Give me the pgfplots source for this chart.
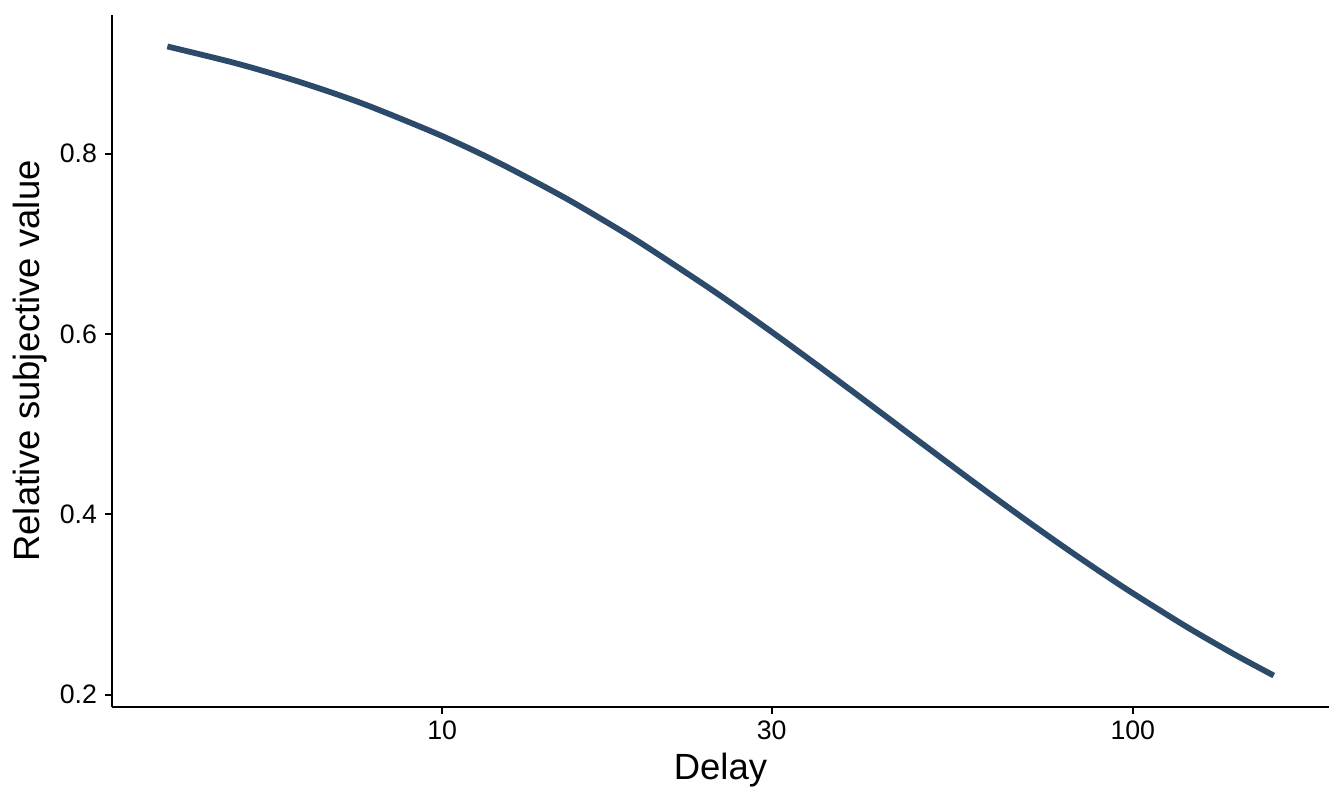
\documentclass[border=0pt]{standalone}
\usepackage{pgfplots}
\pgfplotsset{compat=1.18}
\usepackage{fontspec}
\setmainfont{Liberation Sans}
\definecolor{curve}{HTML}{2C4A6A}
\begin{document}
\begin{tikzpicture}
\begin{axis}[
  at={(0,0)}, anchor=south west,
  scale only axis, width=608.5bp, height=346bp,
  xmode=log, log basis x=10,
  xmin=3.326, xmax=192.4, ymin=0.1863, ymax=0.954,
  axis lines=left, axis line style={-, line width=1.1bp, black},
  xtick={10,30,100}, xticklabels={10,30,100},
  ytick={0.2,0.4,0.6,0.8},
  yticklabel style={/pgf/number format/fixed, /pgf/number format/precision=1, /pgf/number format/fixed zerofill},
  /pgf/number format/assume math mode=true,
  tick align=outside, major tick length=3.5bp,
  tick style={line width=1.1bp, black},
  minor tick num=0, xminorticks=false,
  ticklabel style={font=\fontsize{13.4}{16}\selectfont},
  yticklabel style={xshift=-0.5bp},
  xlabel={Delay}, ylabel={Relative subjective value},
  label style={font=\fontsize{18.3}{21}\selectfont},
  xlabel style={at={(axis description cs:0.5,0)}, anchor=center, yshift=-31.5bp},
  ylabel style={at={(axis description cs:0,0.5)}, anchor=center, yshift=41bp},
  clip=false,
]
\addplot[curve, line width=2.9bp, no marks, smooth] coordinates {
(4,0.9191) (5,0.9009) (6,0.8834) (7,0.8666) (8,0.8503) (10,0.8197)
(12,0.7911) (15,0.7519) (18,0.7163) (20,0.6944) (25,0.6452) (30,0.6024)
(35,0.5650) (40,0.5319) (50,0.4762) (60,0.4310) (70,0.3937) (80,0.3623)
(90,0.3356) (100,0.3125) (120,0.2747) (140,0.2451) (160,0.2212)
};
\end{axis}
\path[use as bounding box] (-56bp,-49.5bp) rectangle (616bp,353.5bp);
\end{tikzpicture}
\end{document}
